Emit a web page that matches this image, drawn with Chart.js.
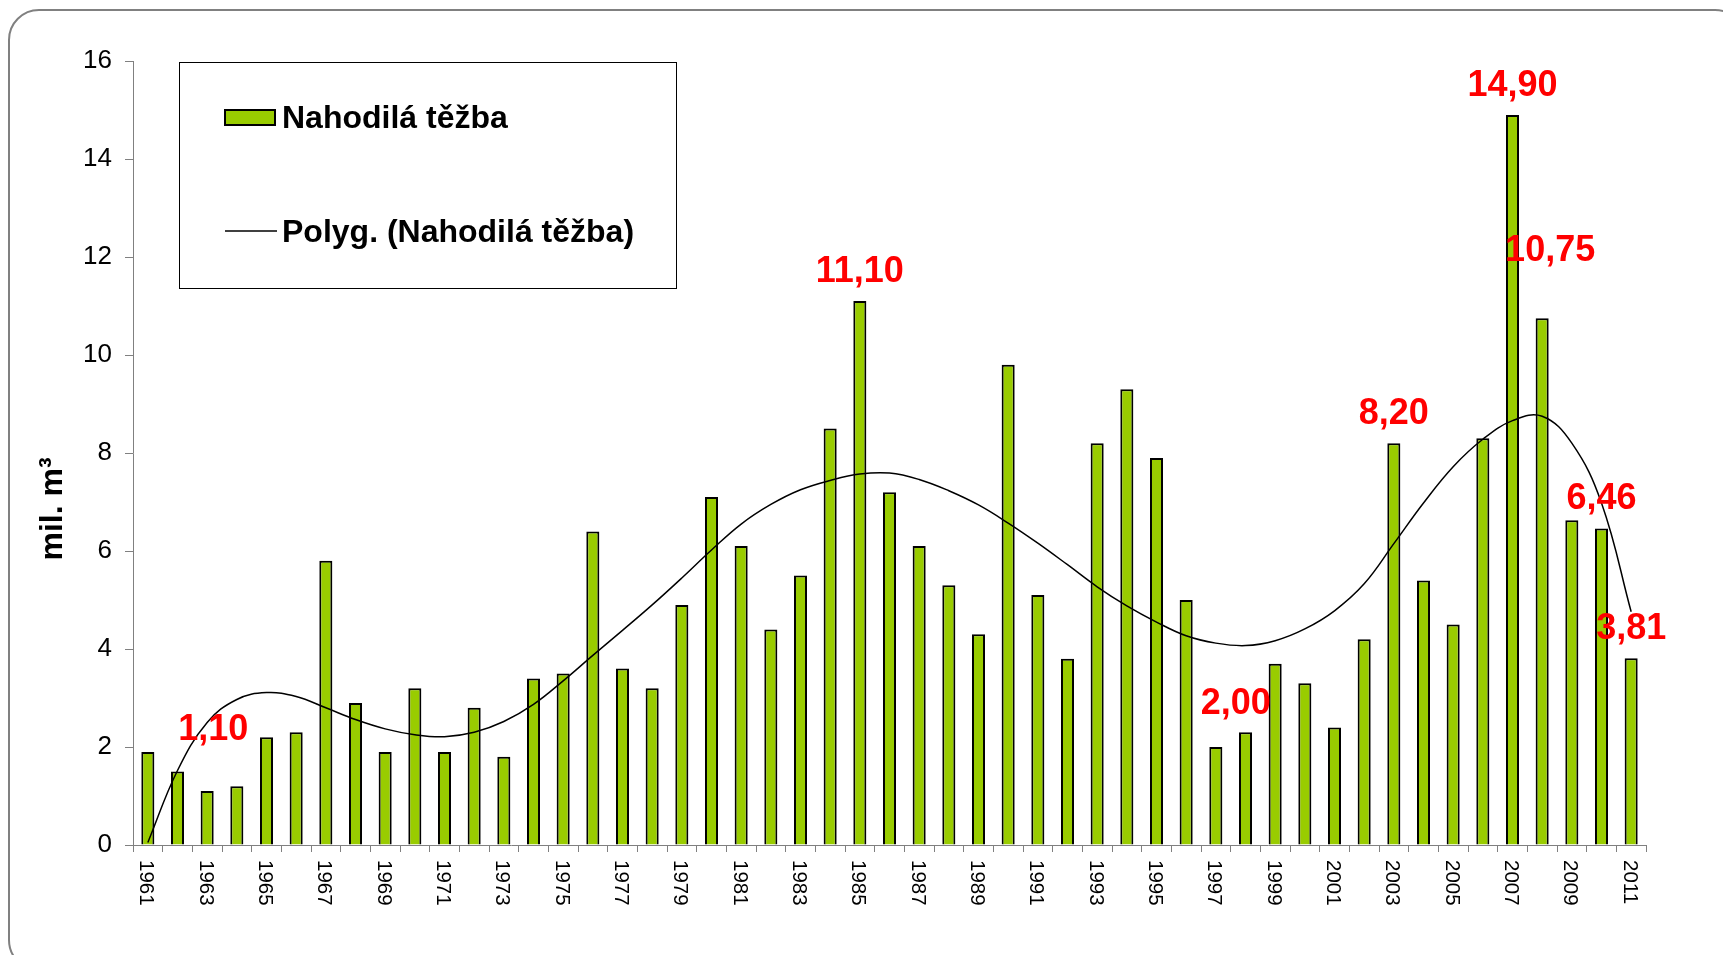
<!DOCTYPE html>
<html><head><meta charset="utf-8">
<script src="https://cdn.jsdelivr.net/npm/chart.js@4.4.1/dist/chart.umd.min.js"></script>
<style>html,body{margin:0;padding:0;background:#fff;overflow:hidden}canvas{display:block}</style>
</head><body>
<canvas id="c" width="1723" height="955"></canvas>
<script>
// ---- data ----
const years = ['1961','1962','1963','1964','1965','1966','1967','1968','1969','1970',
  '1971','1972','1973','1974','1975','1976','1977','1978','1979','1980',
  '1981','1982','1983','1984','1985','1986','1987','1988','1989','1990',
  '1991','1992','1993','1994','1995','1996','1997','1998','1999','2000',
  '2001','2002','2003','2004','2005','2006','2007','2008','2009','2010','2011'];
const harvest = [1.9,1.5,1.1,1.2,2.2,2.3,5.8,2.9,1.9,3.2,
  1.9,2.8,1.8,3.4,3.5,6.4,3.6,3.2,4.9,7.1,
  6.1,4.4,5.5,8.5,11.1,7.2,6.1,5.3,4.3,9.8,
  5.1,3.8,8.2,9.3,7.9,5.0,2.0,2.3,3.7,3.3,
  2.4,4.2,8.2,5.4,4.5,8.3,14.9,10.75,6.63,6.46,3.81];
const trend = [0.05,1.52,2.5,2.97,3.11,3.03,2.8,2.56,2.37,2.25,
  2.21,2.3,2.52,2.87,3.35,3.87,4.38,4.9,5.45,6.02,
  6.55,6.95,7.25,7.44,7.57,7.59,7.46,7.23,6.94,6.57,
  6.16,5.72,5.27,4.88,4.55,4.27,4.12,4.07,4.17,4.41,
  4.78,5.33,6.15,6.98,7.72,8.28,8.66,8.75,8.2,6.98,4.76];
const xTickYears = ['1961','1963','1965','1967','1969','1971','1973','1975','1977','1979',
  '1981','1983','1985','1987','1989','1991','1993','1995','1997','1999',
  '2001','2003','2005','2007','2009','2011'];
const labeledYears = ['1963','1985','1997','2003','2007','2008','2010','2011'];
const seriesName = 'Nahodilá těžba';
const trendName = 'Polyg. (Nahodilá těžba)';
const yTitle = 'mil. m³';

// ---- styles ----
const FONT = "'Liberation Sans', Arial, sans-serif";
const GREEN = '#99CC00';
const labelOffsets = {'1963':[6,-64], '1997':[20,-46], '2008':[8,-70]};
const defaultLabelOffset = [0,-32];
const LBL = 36;

const deco = {
  id: 'deco',
  beforeDraw(chart) {
    const ctx = chart.ctx;
    ctx.save();
    ctx.fillStyle = '#fff';
    ctx.fillRect(0, 0, chart.width, chart.height);
    ctx.strokeStyle = '#808080';
    ctx.lineWidth = 2;
    ctx.beginPath();
    ctx.roundRect(9, 10, 1736, 960, 30);
    ctx.stroke();
    ctx.restore();
  },
  afterDatasetsDraw(chart) {
    const ctx = chart.ctx;
    const xs = chart.scales.x, ys = chart.scales.y;
    ctx.save();
    ctx.fillStyle = '#FF0000';
    ctx.font = "bold " + LBL + "px " + FONT;
    ctx.textAlign = 'center';
    ctx.textBaseline = 'alphabetic';
    labeledYears.forEach(yr => {
      const i = years.indexOf(yr);
      const off = labelOffsets[yr] || defaultLabelOffset;
      const x = xs.getPixelForValue(i) + off[0];
      const y = ys.getPixelForValue(harvest[i]) + off[1];
      const txt = harvest[i].toFixed(2).replace('.', ',');
      ctx.fillText(txt, x, y + 0.358 * LBL);
    });
    ctx.restore();
  },
  afterDraw(chart) {
    const ctx = chart.ctx;
    const xs = chart.scales.x;
    ctx.save();
    // x tick labels, rotated to read top-to-bottom
    ctx.fillStyle = '#000';
    ctx.font = "20.5px " + FONT;
    ctx.textAlign = 'left';
    ctx.textBaseline = 'alphabetic';
    xTickYears.forEach(yr => {
      const i = years.indexOf(yr);
      const x = xs.getPixelForValue(i);
      ctx.save();
      ctx.translate(x, xs.top + 15);
      ctx.rotate(Math.PI / 2);
      ctx.fillText(yr, 0, 0.358 * 20.5);
      ctx.restore();
    });
    // y axis title
    ctx.save();
    ctx.font = "bold 32px " + FONT;
    ctx.textAlign = 'center';
    ctx.translate(50, 509);
    ctx.rotate(-Math.PI / 2);
    ctx.fillText(yTitle, 0, 0.36 * 32);
    ctx.restore();
    // legend box
    ctx.fillStyle = '#fff';
    ctx.fillRect(179, 62, 497, 226);
    ctx.strokeStyle = '#000';
    ctx.lineWidth = 1;
    ctx.strokeRect(179.5, 62.5, 497, 226);
    ctx.fillStyle = GREEN;
    ctx.fillRect(225, 110, 50, 15);
    ctx.strokeStyle = '#000';
    ctx.lineWidth = 2;
    ctx.strokeRect(225, 110, 50, 15);
    ctx.beginPath();
    ctx.lineWidth = 1.5;
    ctx.moveTo(225, 231); ctx.lineTo(277, 231);
    ctx.stroke();
    ctx.fillStyle = '#000';
    ctx.font = "bold 32px " + FONT;
    ctx.textAlign = 'left';
    ctx.fillText(chart.data.datasets[1].label, 282, 117 + 0.358 * 32);
    ctx.fillText(chart.data.datasets[0].label, 282, 231 + 0.358 * 32);
    ctx.restore();
  }
};

new Chart(document.getElementById('c'), {
  data: {
    labels: years,
    datasets: [
      { type: 'line', label: trendName, data: trend, borderColor: '#000', borderWidth: 1.5,
        pointRadius: 0, fill: false, tension: 0.4, order: 0 },
      { type: 'bar', label: seriesName, data: harvest, backgroundColor: GREEN,
        borderColor: '#000', borderWidth: 2, borderSkipped: 'bottom',
        barPercentage: 0.44, categoryPercentage: 1.0, order: 1 }
    ]
  },
  options: {
    responsive: false,
    animation: false,
    events: [],
    layout: { padding: { left: 0, top: 61, right: 77, bottom: 0 } },
    plugins: { legend: { display: false }, tooltip: { enabled: false }, title: { display: false } },
    scales: {
      x: {
        type: 'category',
        offset: true,
        grid: { offset: true, drawOnChartArea: false, drawTicks: true, tickLength: 7, color: '#808080', lineWidth: 1 },
        border: { color: '#808080', width: 1 },
        ticks: { display: false, autoSkip: false },
        afterFit(s) { s.height = 110; }
      },
      y: {
        min: 0, max: 16,
        grid: { drawOnChartArea: false, drawTicks: true, tickLength: 8, color: '#808080', lineWidth: 1 },
        border: { color: '#808080', width: 1 },
        ticks: { stepSize: 2, color: '#000', font: { family: FONT, size: 26 }, padding: 13 },
        afterFit(s) { s.width = 133; }
      }
    }
  },
  plugins: [deco]
});
</script>
</body></html>
